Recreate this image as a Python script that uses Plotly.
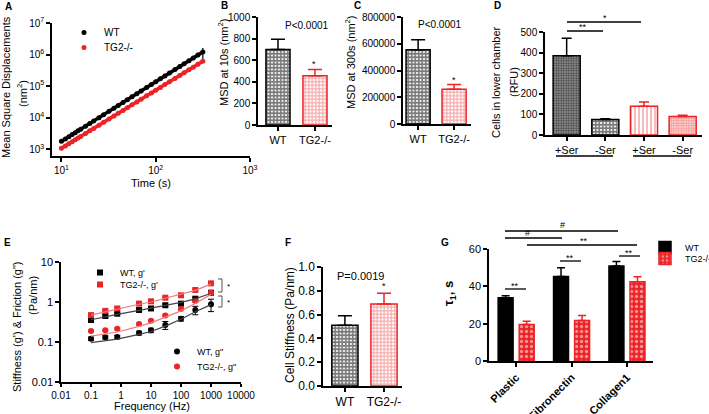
import plotly.graph_objects as go

W, H = 709, 414
FONT = "Arial, Liberation Sans, Helvetica, sans-serif"
RED = "#ec2327"


def px(x):
    return x / W


def py(y):
    return 1 - y / H


# ---- A: mean square displacement vs time ----
msd_time = [10, 11, 12, 13, 14, 15, 16, 18, 20, 22, 25, 28, 32, 36, 40, 45, 50, 56, 63,
            70, 80, 90, 100, 112, 125, 140, 160, 180, 200, 225, 250, 280, 316]
msd_wt = [1780, 2130, 2510, 2920, 3360, 3830, 4320, 5400, 6590, 7890, 10050, 12450, 16000,
          20000, 24430, 30530, 37240, 46130, 57650, 70310, 90530, 113000, 138000, 171000,
          210400, 260700, 335500, 419300, 511600, 639300, 780000, 966000, 1214000]
msd_ko = [1070, 1276, 1500, 1738, 1990, 2260, 2545, 3160, 3835, 4570, 5780, 7130, 9100,
          11320, 13740, 17060, 20710, 25520, 31680, 38460, 49180, 61070, 74130, 91300,
          111700, 137700, 176000, 218700, 265300, 329600, 400000, 493000, 615000]
msd_wt_err_up = [0] * 32 + [400000]
msd_wt_err_dn = [0] * 32 + [500000]

# ---- B, C, F: two-group bars ----
groups = ["WT", "TG2-/-"]
msd10 = [700, 455]
msd10_err = [95, 60]
msd300 = [555000, 260000]
msd300_err = [75000, 35000]
stiffness = [0.51, 0.69]
stiffness_err = [0.08, 0.09]

# ---- D: transwell migration ----
serum = ["+Ser", "-Ser", "+Ser", "-Ser"]
rfu = [385, 75, 140, 90]
rfu_err = [85, 4, 20, 6]

# ---- E: g' and g'' vs frequency ----
freq = [0.1, 0.3, 0.75, 4, 10, 30, 100, 300, 1000]
gp_wt = [0.355, 0.447, 0.51, 0.63, 0.69, 0.83, 0.91, 1.21, 1.71]
gp_ko = [0.47, 0.6, 0.69, 0.91, 1.04, 1.28, 1.47, 2.0, 2.93]
gpp_wt = [0.121, 0.131, 0.133, 0.168, 0.196, 0.266, 0.383, 0.63, 0.875]
gpp_ko = [0.188, 0.196, 0.215, 0.28, 0.34, 0.46, 0.67, 1.06, 1.7]
gp_wt_err = [0.03, 0.03, 0.03, 0.05, 0.05, 0.06, 0.08, 0.12, 0.2]
gp_ko_err = [0.03, 0.03, 0.03, 0.05, 0.05, 0.06, 0.08, 0.12, 0.2]
gpp_wt_err = [0.012, 0.012, 0.013, 0.018, 0.025, 0.06, 0.05, 0.15, 0.3]
gpp_ko_err = [0.01, 0.01, 0.012, 0.015, 0.02, 0.03, 0.04, 0.08, 0.15]
fit_gp_wt = [0.36, 0.43, 0.49, 0.62, 0.7, 0.83, 0.98, 1.2, 1.65]
fit_gp_ko = [0.47, 0.57, 0.66, 0.88, 1.0, 1.25, 1.55, 1.95, 2.8]
fit_gpp_wt = [0.097, 0.108, 0.118, 0.155, 0.183, 0.25, 0.37, 0.57, 0.86]
fit_gpp_ko = [0.14, 0.158, 0.178, 0.245, 0.3, 0.42, 0.6, 0.92, 1.55]

# ---- G: tau1 on substrates ----
substrates = ["Plastic", "Fibronectin", "Collagen1"]
tau_wt = [33.9, 45.3, 50.9]
tau_wt_err = [1.0, 4.6, 2.4]
tau_ko = [19.5, 21.7, 42.5]
tau_ko_err = [1.8, 2.7, 2.6]

# bar fill styles
pat_black = dict(shape="+", fgcolor="black", bgcolor="#f4f4f4", size=3.5, solidity=0.7)
pat_red = dict(shape="+", fgcolor="#ee5a5a", bgcolor="white", size=3.5, solidity=0.6)
pat_grey = dict(shape="+", fgcolor="#1e1e1e", bgcolor="#8a8a8a", size=2.5, solidity=0.55)
pat_stripe = dict(shape="|", fgcolor="#f06a6a", bgcolor="white", size=4, solidity=0.45)
pat_red_fine = dict(shape="+", fgcolor="#f06a6a", bgcolor="#fbd0d0", size=2.5, solidity=0.55)
pat_red_dots = dict(shape=".", fgcolor="white", bgcolor=RED, size=5, solidity=0.35)

fig = go.Figure()


def add_bars(xs, ys, errs, ax, pats, lines, width, cap):
    for i in range(len(ys)):
        fig.add_trace(go.Bar(
            x=[xs[i]], y=[ys[i]], width=width, xaxis="x" + ax, yaxis="y" + ax,
            marker=dict(color="white", pattern=pats[i], line=dict(color=lines[i], width=1.5)),
            error_y=dict(type="data", symmetric=False, array=[errs[i]], arrayminus=[0],
                         color=lines[i], thickness=1.5, width=cap),
            showlegend=False, hoverinfo="skip"))


# A: dense dots merge into a band, drawn as a line under the markers
fig.add_trace(go.Scatter(x=msd_time, y=msd_wt, mode="lines", line=dict(color="black", width=3.5),
                         error_y=dict(type="data", symmetric=False, array=msd_wt_err_up,
                                      arrayminus=msd_wt_err_dn, color="black", thickness=1.2, width=0),
                         xaxis="x", yaxis="y", showlegend=False, hoverinfo="skip"))
fig.add_trace(go.Scatter(x=msd_time, y=msd_ko, mode="lines", line=dict(color=RED, width=3.5),
                         xaxis="x", yaxis="y", showlegend=False, hoverinfo="skip"))
fig.add_trace(go.Scatter(x=msd_time, y=msd_wt, mode="markers", name="WT",
                         marker=dict(color="black", size=5), xaxis="x", yaxis="y", legend="legend"))
fig.add_trace(go.Scatter(x=msd_time, y=msd_ko, mode="markers", name="TG2-/-",
                         marker=dict(color=RED, size=5), xaxis="x", yaxis="y", legend="legend2"))

# B, C, F
add_bars([0, 1], msd10, msd10_err, "2", [pat_black, pat_red], ["black", RED], 0.65, 7)
add_bars([0, 1], msd300, msd300_err, "3", [pat_black, pat_red], ["black", RED], 0.67, 7)
add_bars([0, 1], stiffness, stiffness_err, "6", [pat_black, pat_red], ["black", RED], 0.67, 7)

# D
add_bars([0, 1, 2, 3], rfu, rfu_err, "4", [pat_grey, pat_black, pat_stripe, pat_red_fine],
         ["black", "black", RED, RED], 0.7, 5)

# E
for ys, err, nm, col, sym, lg in [
        (gp_wt, gp_wt_err, "WT, g'", "black", "square", "legend3"),
        (gp_ko, gp_ko_err, "TG2-/-, g'", RED, "square", "legend4"),
        (gpp_wt, gpp_wt_err, 'WT, g"', "black", "circle", "legend5"),
        (gpp_ko, gpp_ko_err, 'TG2-/-, g"', RED, "circle", "legend6")]:
    fig.add_trace(go.Scatter(x=freq, y=ys, mode="markers", name=nm,
                             marker=dict(color=col, symbol=sym, size=6),
                             error_y=dict(type="data", array=err, color=col, thickness=1, width=3),
                             xaxis="x5", yaxis="y5", legend=lg))
for ys, col in [(fit_gp_wt, "#444444"), (fit_gp_ko, "#f07c7c"),
                (fit_gpp_wt, "#444444"), (fit_gpp_ko, "#f07c7c")]:
    fig.add_trace(go.Scatter(x=freq, y=ys, mode="lines", line=dict(color=col, width=1.2),
                             xaxis="x5", yaxis="y5", showlegend=False, hoverinfo="skip"))

# G
fig.add_trace(go.Bar(x=list(range(3)), y=tau_wt, name="WT", width=0.27, offset=-0.325,
                     marker=dict(color="black", line=dict(color="black", width=1.5)),
                     error_y=dict(type="data", symmetric=False, array=tau_wt_err,
                                  arrayminus=[0, 0, 0], color="black", thickness=1.5, width=4),
                     xaxis="x7", yaxis="y7", legend="legend7"))
fig.add_trace(go.Bar(x=list(range(3)), y=tau_ko, name="TG2-/-", width=0.27, offset=0.055,
                     marker=dict(color=RED, pattern=pat_red_dots, line=dict(color=RED, width=1.5)),
                     error_y=dict(type="data", symmetric=False, array=tau_ko_err,
                                  arrayminus=[0, 0, 0], color=RED, thickness=1.5, width=4),
                     xaxis="x7", yaxis="y7", legend="legend8"))

base = dict(showline=True, linecolor="black", linewidth=1.5, ticks="outside", ticklen=4,
            tickwidth=1.5, tickcolor="black", showgrid=False, zeroline=False,
            tickfont=dict(size=10, color="black", family=FONT))


def xax(l, r, anchor, **kw):
    d = dict(base, domain=[px(l), px(r)], anchor=anchor)
    d.update(kw)
    return d


def yax(t, b, anchor, **kw):
    d = dict(base, domain=[py(b), py(t)], anchor=anchor)
    d.update(kw)
    return d


pow10 = lambda n: "10<sup>%d</sup>" % n
layout_axes = dict(
    xaxis=xax(52, 250, "y", type="log", range=[0.9, 3.0], tickvals=[10, 100, 1000],
              ticktext=[pow10(1), pow10(2), pow10(3)]),
    yaxis=yax(23, 156, "x", type="log", range=[2.787, 7], tickvals=[1e3, 1e4, 1e5, 1e6, 1e7],
              ticktext=[pow10(n) for n in range(3, 8)]),
    xaxis2=xax(258, 332, "y2", range=[-0.54, 1.46], tickvals=[0, 1], ticktext=groups,
               tickfont=dict(size=11, color="black", family=FONT)),
    yaxis2=yax(17, 125, "x2", range=[0, 1000], dtick=200),
    xaxis3=xax(403, 471, "y3", range=[-0.42, 1.47], tickvals=[0, 1], ticktext=groups,
               tickfont=dict(size=11, color="black", family=FONT)),
    yaxis3=yax(17, 124, "x3", range=[0, 800000], dtick=200000, tickformat="d"),
    xaxis4=xax(545, 702, "y4", range=[-0.56, 3.5], tickvals=[0, 1, 2, 3], ticktext=serum,
               tickfont=dict(size=11, color="black", family=FONT)),
    yaxis4=yax(32, 135, "x4", range=[0, 500], dtick=100),
    xaxis5=xax(61, 241, "y5", type="log", range=[-2, 4], ticklen=3,
               tickvals=[0.01, 0.1, 1, 10, 100, 1000, 10000],
               ticktext=["0.01", "0.1", "1", "10", "100", "1000", "10000"]),
    yaxis5=yax(262, 382, "x5", type="log", range=[-2, 1], tickvals=[0.01, 0.1, 1, 10],
               ticktext=["0.01", "0.1", "1", "10"], tickfont=dict(size=11, color="black", family=FONT)),
    xaxis6=xax(323, 402, "y6", range=[-0.56, 1.46], tickvals=[0, 1], ticktext=groups,
               tickfont=dict(size=12, color="black", family=FONT)),
    yaxis6=yax(267, 386, "x6", range=[0, 1.0], dtick=0.2, tickformat=".1f",
               tickfont=dict(size=12, color="black", family=FONT)),
    xaxis7=xax(489, 653, "y7", range=[-0.49, 2.47], tickvals=[0, 1, 2],
               ticktext=["<b>%s</b>" % s for s in substrates], tickangle=-45,
               tickfont=dict(size=11, color="black", family=FONT)),
    yaxis7=yax(249, 361, "x7", range=[0, 60], dtick=20,
               tickfont=dict(size=11, color="black", family=FONT)),
)

leg = dict(bgcolor="rgba(0,0,0,0)", xanchor="left", yanchor="top", tracegroupgap=0,
           font=dict(size=10, family=FONT, color="black"), itemclick=False)
leg_small = dict(leg, font=dict(size=9, family=FONT, color="black"))

fig.update_layout(
    width=W, height=H, margin=dict(l=0, r=0, t=0, b=0, autoexpand=False),
    paper_bgcolor="white", plot_bgcolor="white", barmode="overlay",
    font=dict(family=FONT, size=10, color="black"),
    legend=dict(leg, x=px(64), y=py(18)),
    legend2=dict(leg, x=px(64), y=py(33)),
    legend3=dict(leg_small, x=px(80), y=py(258)),
    legend4=dict(leg_small, x=px(80), y=py(270)),
    legend5=dict(leg_small, x=px(157), y=py(337)),
    legend6=dict(leg_small, x=px(157), y=py(352)),
    legend7=dict(leg_small, x=px(645), y=py(233)),
    legend8=dict(leg_small, x=px(645), y=py(244)),
    **layout_axes)

notes = [
    # panel letters
    ("<b>A</b>", 3, 7, 10, 0, "left"), ("<b>B</b>", 219, 6, 10, 0, "left"),
    ("<b>C</b>", 352, 6, 10, 0, "left"), ("<b>D</b>", 492, 6, 10, 0, "left"),
    ("<b>E</b>", 2, 242, 10, 0, "left"), ("<b>F</b>", 283, 242, 10, 0, "left"),
    ("<b>G</b>", 439, 242, 10, 0, "left"),
    # axis titles
    ("Mean Square Displacements", 6, 87, 11, -90, "center"),
    ("(nm<sup>2</sup>)", 22, 94, 11, -90, "center"),
    ("Time (s)", 151, 183, 11, 0, "center"),
    ("MSD at 10s (nm<sup>2</sup>)", 223, 63, 11, -90, "center"),
    ("MSD at 300s (nm<sup>2</sup>)", 350, 62, 11, -90, "center"),
    ("Cells in lower chamber", 496, 82, 11, -90, "center"),
    ("(RFU)", 514, 82, 11, -90, "center"),
    ("Stiffness (g') &amp; Friction (g\")", 17, 327, 11, -90, "center"),
    ("(Pa/nm)", 33, 296, 11, -90, "center"),
    ("Frequency (Hz)", 152, 406, 11, 0, "center"),
    ("Cell Stiffness (Pa/nm)", 290, 325, 12, -90, "center"),
    ("<b>τ<sub>1</sub>, s</b>", 449, 294, 13, -90, "center"),
    # stats
    ("P&lt;0.0001", 307, 25, 10, 0, "center"), ("*", 314, 64, 9, 0, "center"),
    ("P&lt;0.0001", 440, 24, 10, 0, "center"), ("*", 454, 80, 9, 0, "center"),
    ("P=0.0019", 360, 276, 11, 0, "center"), ("*", 384, 286, 9, 0, "center"),
    ("**", 583, 27, 9, 0, "center"), ("*", 605, 18, 9, 0, "center"),
    ("*", 228, 286, 8, 0, "center"), ("*", 228, 302, 8, 0, "center"),
    ("#", 562, 225, 9, 0, "center"), ("#", 527, 233, 9, 0, "center"),
    ("**", 584, 241, 9, 0, "center"), ("**", 515, 286, 9, 0, "center"),
    ("**", 570, 258, 9, 0, "center"), ("**", 629, 253, 9, 0, "center"),
]
for text, x, y, size, ang, xa in notes:
    fig.add_annotation(text=text, x=px(x), y=py(y), xref="paper", yref="paper", showarrow=False,
                       textangle=ang, xanchor=xa, yanchor="middle",
                       font=dict(size=size, family=FONT, color="black"))

segs = [
    (567, 603, 31), (567, 641, 22), (556, 613, 156), (633, 691, 156),  # D
    (505, 618, 231), (505, 562, 238), (527, 637, 245),  # G long
    (505, 526, 289), (560, 581, 261), (619, 640, 256),  # G pairs
]
for x0, x1, y in segs:
    fig.add_shape(type="line", xref="paper", yref="paper", x0=px(x0), x1=px(x1), y0=py(y), y1=py(y),
                  line=dict(color="black", width=1.3))
for y0, y1 in [(279, 292), (296, 307)]:
    fig.add_shape(type="path", xref="paper", yref="paper",
                  path="M %f %f L %f %f L %f %f L %f %f" % (px(218), py(y0), px(222), py(y0),
                                                            px(222), py(y1), px(218), py(y1)),
                  line=dict(color="#555555", width=1))

# the page's default body margin would shift the whole figure by 8px
fig.write_html("out.html", config={"displayModeBar": False},
               post_script="document.body.style.margin='0';")
